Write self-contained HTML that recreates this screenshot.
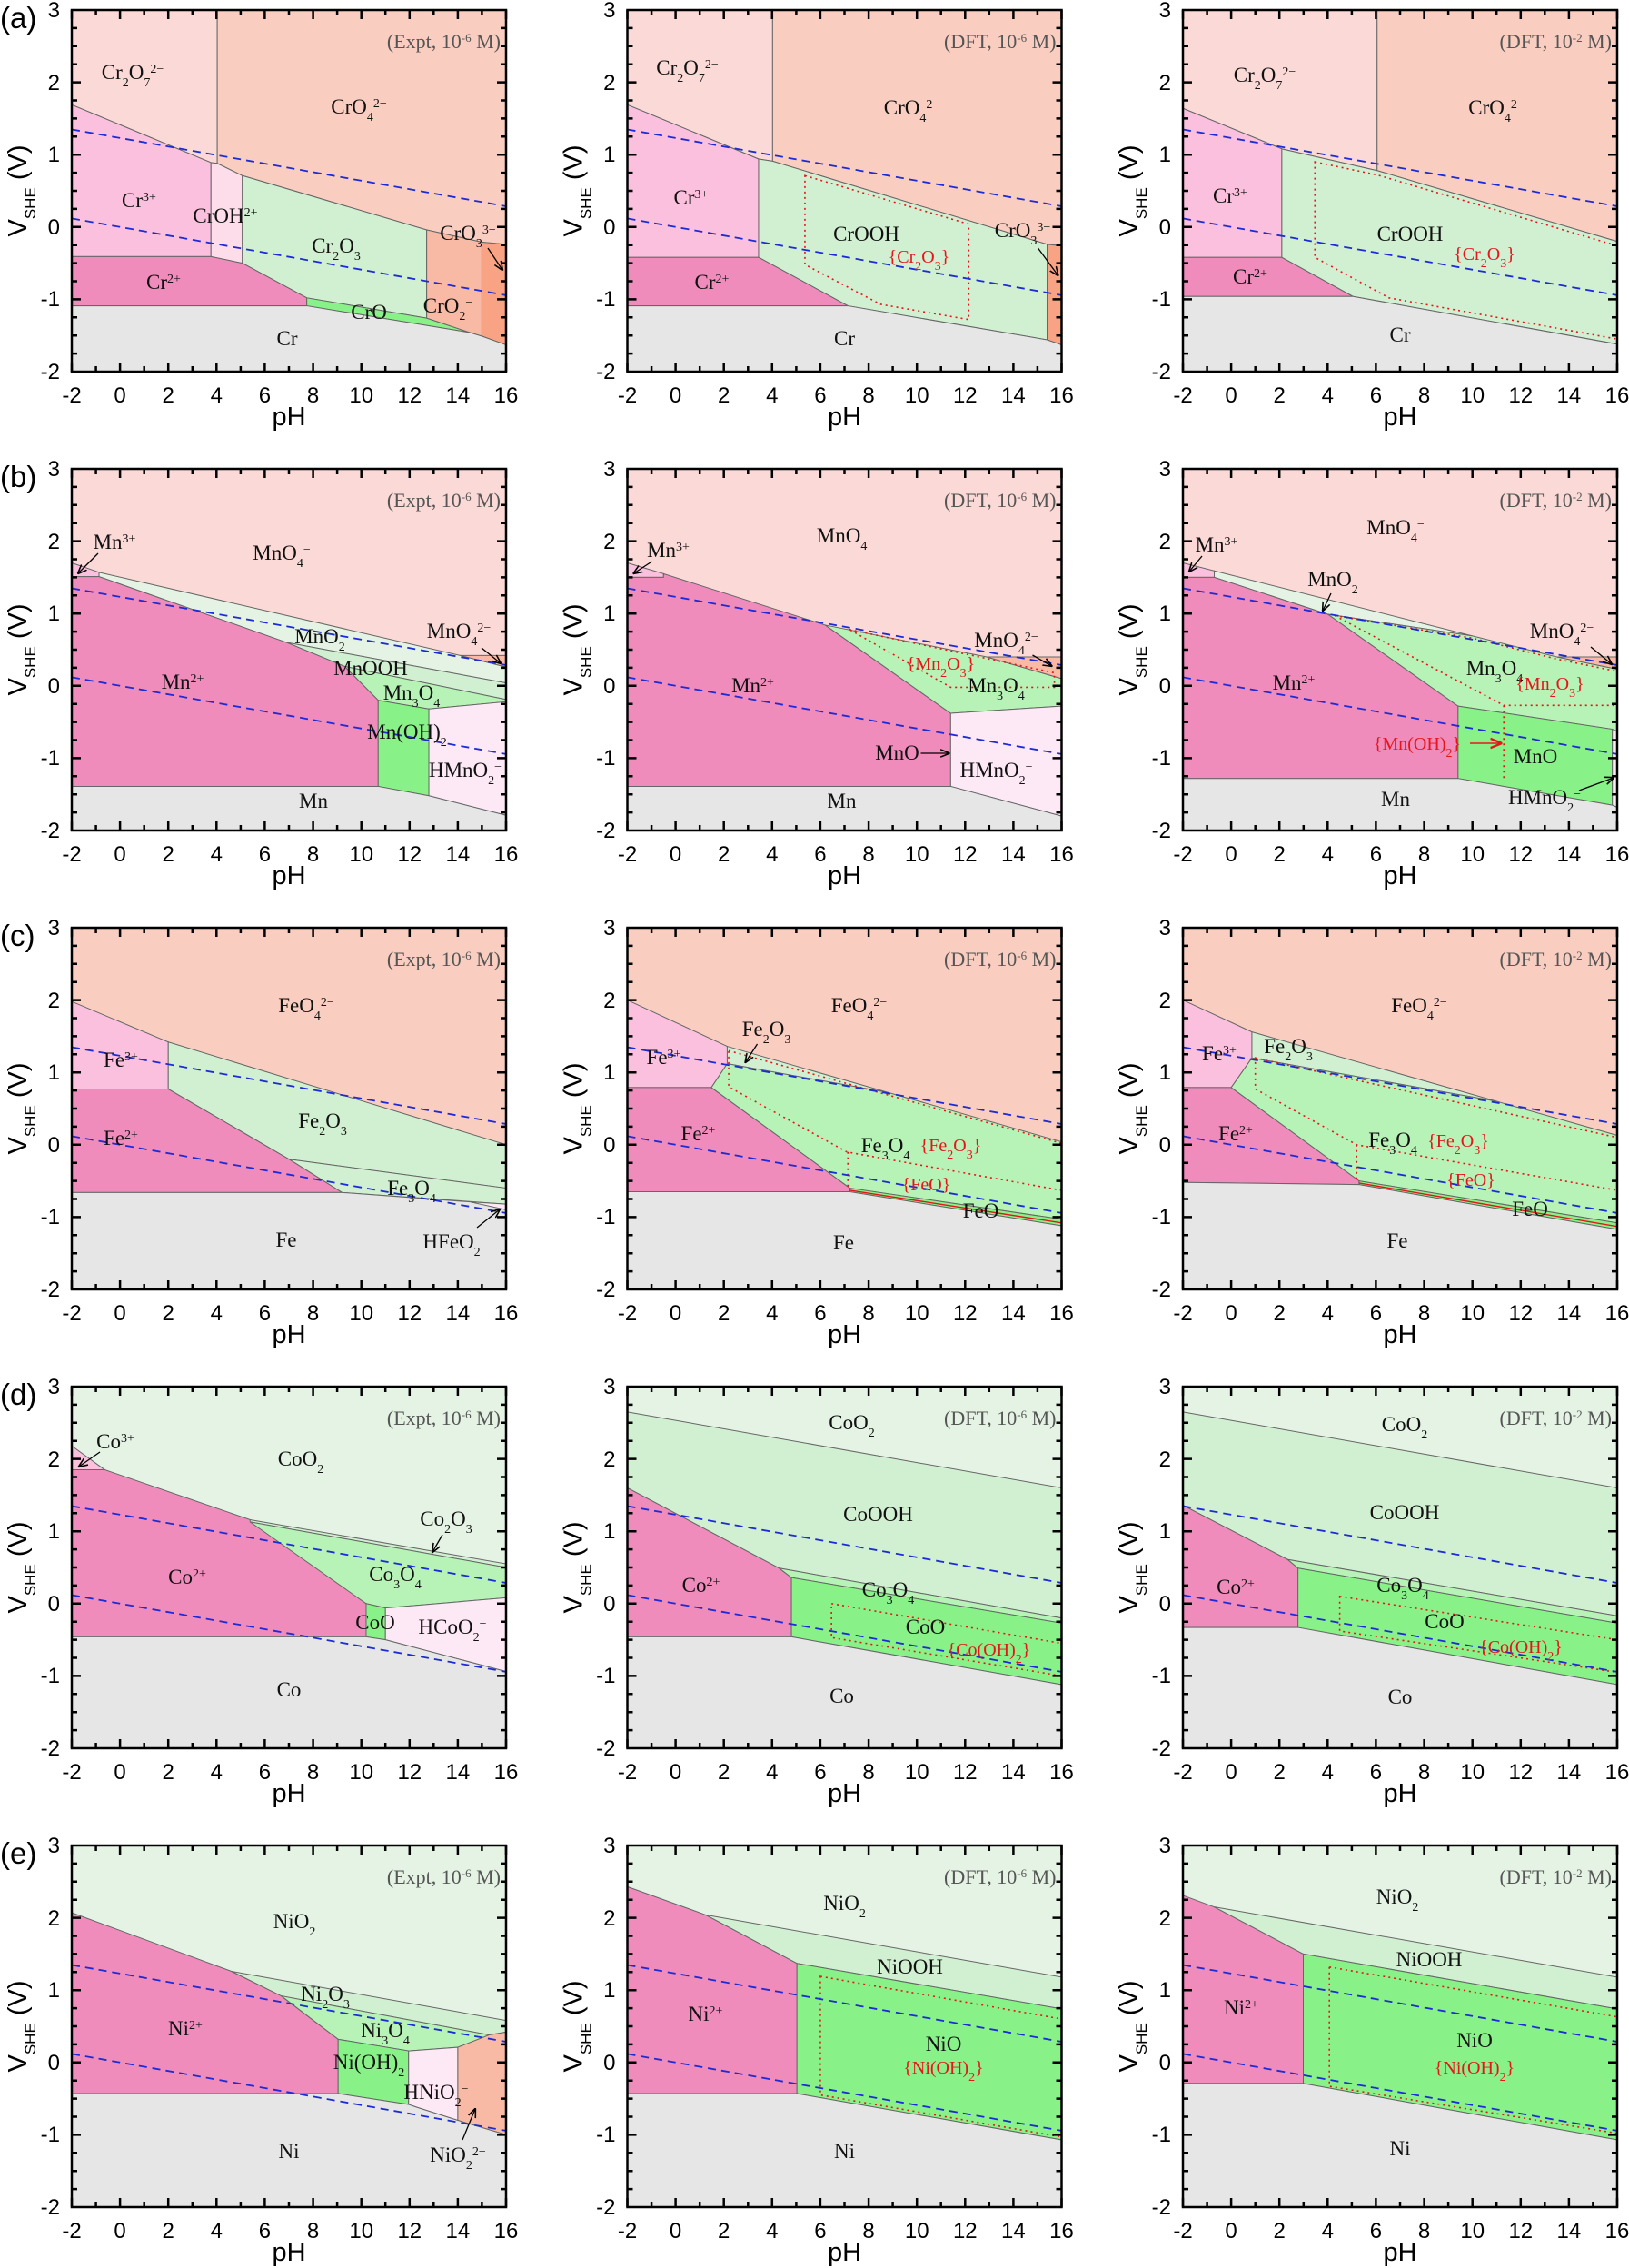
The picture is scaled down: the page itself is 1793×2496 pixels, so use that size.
<!DOCTYPE html>
<html><head><meta charset="utf-8">
<style>
html,body{margin:0;padding:0;background:#fff}
svg{display:block}
.r polygon{stroke:#666;stroke-width:1;vector-effect:non-scaling-stroke}
.bg0{fill:#fad9d6}.sal{fill:#f9cec0}.p3{fill:#fbc0dd}.p2{fill:#ef8cbc}.gy{fill:#e6e6e6}
.g1{fill:#d1efd1}.g0{fill:#e4f3e4}.g2{fill:#b7f2b7}.g3{fill:#88f288}.lp{fill:#fde8f6}
.oh{fill:#fddde9}.o1{fill:#f9baa5}.o2{fill:#f7a384}
.r .dt,.dt{fill:none;stroke:#e8141a;stroke-width:1.6;stroke-dasharray:2 4;vector-effect:non-scaling-stroke}
.rl{fill:none;stroke:#e8141a;stroke-width:1.4;vector-effect:non-scaling-stroke}
.w{fill:none;stroke:#1c2bd6;stroke-width:1.8;stroke-dasharray:9 6}
.t{font-family:"Liberation Serif",serif;font-size:23px;text-anchor:middle;fill:#111}
.rd{fill:#e8141a;font-size:20px}
.b{font-size:14px;baseline-shift:sub}
.p{font-size:14px;baseline-shift:super}
.hd{font-family:"Liberation Serif",serif;font-size:22px;text-anchor:end;fill:#555}
.hd tspan{font-size:13px;baseline-shift:super}
.tx{font-family:"Liberation Sans",sans-serif;font-size:24px;text-anchor:middle;fill:#000}
.ty{font-family:"Liberation Sans",sans-serif;font-size:24px;text-anchor:end;fill:#000}
.at{font-family:"Liberation Sans",sans-serif;font-size:29px;text-anchor:middle;fill:#000}
.at tspan{font-size:17px;baseline-shift:sub}
.rw{font-family:"Liberation Sans",sans-serif;font-size:33px;fill:#000}
.ar{stroke:#000;stroke-width:1.3;fill:none}
.arr{stroke:#e8141a;stroke-width:1.6;fill:none}
</style></head><body>
<svg width="1793" height="2496" viewBox="0 0 1793 2496" xmlns="http://www.w3.org/2000/svg">
<defs>
<marker id="m" viewBox="0 0 10 10" refX="9" refY="5" markerWidth="8" markerHeight="8" orient="auto"><path d="M0,1 L10,5 L0,9" fill="none" stroke="#000" stroke-width="1.5"/></marker>
<marker id="mr" viewBox="0 0 10 10" refX="9" refY="5" markerWidth="8" markerHeight="8" orient="auto"><path d="M0,1 L10,5 L0,9" fill="none" stroke="#e8141a" stroke-width="1.8"/></marker>
<g id="ax">
<path fill="none" stroke="#000" stroke-width="2.5" d="M0,398v-10M53.1,398v-10M106.2,398v-10M159.3,398v-10M212.4,398v-10M265.6,398v-10M318.7,398v-10M371.8,398v-10M424.9,398v-10M478,398v-10
M26.6,398v-6M79.7,398v-6M132.8,398v-6M185.9,398v-6M239,398v-6M292.1,398v-6M345.2,398v-6M398.3,398v-6M451.4,398v-6
M0,0v10M53.1,0v10M106.2,0v10M159.3,0v10M212.4,0v10M265.6,0v10M318.7,0v10M371.8,0v10M424.9,0v10M478,0v10
M26.6,0v6M79.7,0v6M132.8,0v6M185.9,0v6M239,0v6M292.1,0v6M345.2,0v6M398.3,0v6M451.4,0v6
M0,79.6h10M0,159.2h10M0,238.8h10M0,318.4h10
M478,79.6h-10M478,159.2h-10M478,238.8h-10M478,318.4h-10
M0,19.9h6M0,39.8h6M0,59.7h6M0,99.5h6M0,119.4h6M0,139.3h6M0,179.1h6M0,199h6M0,218.9h6M0,258.7h6M0,278.6h6M0,298.5h6M0,338.3h6M0,358.2h6M0,378.1h6
M478,19.9h-6M478,39.8h-6M478,59.7h-6M478,99.5h-6M478,119.4h-6M478,139.3h-6M478,179.1h-6M478,199h-6M478,218.9h-6M478,258.7h-6M478,278.6h-6M478,298.5h-6M478,338.3h-6M478,358.2h-6M478,378.1h-6"/>
<rect x="0" y="0" width="478" height="398" fill="none" stroke="#000" stroke-width="2.5"/>
</g>
<g id="wl"><path class="w" d="M0,131.5L478,216"/><path class="w" d="M0,229.4L478,313.9"/></g>
</defs>

<!-- ===== Row a ===== -->
<text class="rw" x="0" y="31">(a)</text>
<g transform="translate(79,11)">
<g class="r" transform="matrix(26.556 0 0 79.6 53.11 238.8)">
<polygon class="bg0" points="-2,-3 4.03,-3 4.03,-0.88 3.77,-0.89 -2,-1.69"/>
<polygon class="sal" points="4.03,-3 16,-3 16,0.24 15,0.21 12.71,0.04 5.07,-0.71 4.03,-0.88"/>
<polygon class="p3" points="-2,-1.69 3.77,-0.89 3.77,0.41 -2,0.41"/>
<polygon class="oh" points="3.77,-0.89 4.03,-0.88 5.07,-0.71 5.07,0.5 3.77,0.41"/>
<polygon class="g1" points="5.07,-0.71 12.71,0.04 12.71,1.26 7.74,0.98 5.07,0.5"/>
<polygon class="p2" points="-2,0.41 3.77,0.41 5.07,0.5 7.74,0.98 7.74,1.09 -2,1.09"/>
<polygon class="g3" points="7.74,0.98 12.71,1.26 14.5,1.46 7.74,1.09"/>
<polygon class="o1" points="12.71,0.04 15,0.21 15,1.51 14.5,1.46 12.71,1.26"/>
<polygon class="o2" points="15,0.21 16,0.24 16,1.63 15,1.51"/>
<polygon class="gy" points="-2,1.09 7.74,1.09 14.5,1.46 15,1.51 16,1.63 16,2 -2,2"/>
</g>
<use href="#wl"/>
<text class="t" x="67" y="76">Cr<tspan class="b">2</tspan>O<tspan class="b">7</tspan><tspan class="p">2−</tspan></text>
<text class="t" x="316" y="114">CrO<tspan class="b">4</tspan><tspan class="p">2−</tspan></text>
<text class="t" x="74" y="217">Cr<tspan class="p">3+</tspan></text>
<text class="t" x="169" y="234">CrOH<tspan class="p">2+</tspan></text>
<text class="t" x="291" y="267">Cr<tspan class="b">2</tspan>O<tspan class="b">3</tspan></text>
<text class="t" x="101" y="307">Cr<tspan class="p">2+</tspan></text>
<text class="t" x="327" y="340">CrO</text>
<text class="t" x="436" y="253">CrO<tspan class="b">3</tspan><tspan class="p">3−</tspan></text>
<path class="ar" marker-end="url(#m)" d="M458,262L474,286"/>
<text class="t" x="414" y="333">CrO<tspan class="b">2</tspan><tspan class="p">−</tspan></text>
<text class="t" x="237" y="369">Cr</text>
<text class="hd" x="472" y="42">(Expt, 10<tspan>-6</tspan> M)</text>
<use href="#ax"/>
<g class="tx"><text x="0" y="432">-2</text><text x="53.1" y="432">0</text><text x="106.2" y="432">2</text><text x="159.3" y="432">4</text><text x="212.4" y="432">6</text><text x="265.6" y="432">8</text><text x="318.7" y="432">10</text><text x="371.8" y="432">12</text><text x="424.9" y="432">14</text><text x="478" y="432">16</text></g>
<g class="ty"><text x="-13" y="8">3</text><text x="-13" y="88">2</text><text x="-13" y="167">1</text><text x="-13" y="247">0</text><text x="-13" y="326">-1</text><text x="-13" y="406">-2</text></g>
<text class="at" x="239" y="457">pH</text>
<text class="at" transform="translate(-50,199) rotate(-90)">V<tspan>SHE</tspan> (V)</text>
</g>

<g transform="translate(690.5,11)">
<g class="r" transform="matrix(26.556 0 0 79.6 53.11 238.8)">
<polygon class="bg0" points="-2,-3 4.02,-3 4.02,-0.91 3.44,-0.94 -2,-1.69"/>
<polygon class="sal" points="4.02,-3 16,-3 16,0.26 15.4,0.24 4.02,-0.91"/>
<polygon class="p3" points="-2,-1.69 3.44,-0.94 3.44,0.42 -2,0.42"/>
<polygon class="g1" points="3.44,-0.94 4.02,-0.91 15.4,0.24 15.4,1.56 7.14,1.09 3.44,0.42"/>
<polygon class="o2" points="15.4,0.24 16,0.26 16,1.63 15.4,1.56"/>
<polygon class="p2" points="-2,0.42 3.44,0.42 7.14,1.09 -2,1.09"/>
<polygon class="gy" points="-2,1.09 7.14,1.09 15.4,1.56 16,1.63 16,2 -2,2"/>
<polygon class="dt" points="5.36,-0.71 12.15,-0.04 12.15,1.28 8.5,1.07 5.36,0.52"/>
</g>
<use href="#wl"/>
<text class="t" x="66" y="71">Cr<tspan class="b">2</tspan>O<tspan class="b">7</tspan><tspan class="p">2−</tspan></text>
<text class="t" x="313" y="115">CrO<tspan class="b">4</tspan><tspan class="p">2−</tspan></text>
<text class="t" x="70" y="214">Cr<tspan class="p">3+</tspan></text>
<text class="t" x="263" y="254">CrOOH</text>
<text class="t rd" x="321" y="278">{Cr<tspan class="b">2</tspan>O<tspan class="b">3</tspan>}</text>
<text class="t" x="435" y="250">CrO<tspan class="b">3</tspan><tspan class="p">3−</tspan></text>
<path class="ar" marker-end="url(#m)" d="M452,262L474,292"/>
<text class="t" x="93" y="307">Cr<tspan class="p">2+</tspan></text>
<text class="t" x="239" y="369">Cr</text>
<text class="hd" x="472" y="42">(DFT, 10<tspan>-6</tspan> M)</text>
<use href="#ax"/>
<g class="tx"><text x="0" y="432">-2</text><text x="53.1" y="432">0</text><text x="106.2" y="432">2</text><text x="159.3" y="432">4</text><text x="212.4" y="432">6</text><text x="265.6" y="432">8</text><text x="318.7" y="432">10</text><text x="371.8" y="432">12</text><text x="424.9" y="432">14</text><text x="478" y="432">16</text></g>
<g class="ty"><text x="-13" y="8">3</text><text x="-13" y="88">2</text><text x="-13" y="167">1</text><text x="-13" y="247">0</text><text x="-13" y="326">-1</text><text x="-13" y="406">-2</text></g>
<text class="at" x="239" y="457">pH</text>
<text class="at" transform="translate(-50,199) rotate(-90)">V<tspan>SHE</tspan> (V)</text>
</g>

<g transform="translate(1302,11)">
<g class="r" transform="matrix(26.556 0 0 79.6 53.11 238.8)">
<polygon class="bg0" points="-2,-3 6.05,-3 6.05,-0.78 2.1,-1.08 -2,-1.64"/>
<polygon class="sal" points="6.05,-3 16,-3 16,0.2 6.05,-0.78"/>
<polygon class="p3" points="-2,-1.64 2.1,-1.08 2.1,0.42 -2,0.42"/>
<polygon class="p2" points="-2,0.42 2.1,0.42 5.05,0.96 -2,0.96"/>
<polygon class="g1" points="2.1,-1.08 6.05,-0.78 16,0.2 16,1.62 5.05,0.96 2.1,0.42"/>
<polygon class="gy" points="-2,0.96 5.05,0.96 16,1.62 16,2 -2,2"/>
<polygon class="dt" points="3.47,-0.9 6.05,-0.72 16,0.26 16,1.55 6.54,0.98 3.47,0.42"/>
</g>
<use href="#wl"/>
<text class="t" x="90" y="79">Cr<tspan class="b">2</tspan>O<tspan class="b">7</tspan><tspan class="p">2−</tspan></text>
<text class="t" x="345" y="115">CrO<tspan class="b">4</tspan><tspan class="p">2−</tspan></text>
<text class="t" x="52" y="212">Cr<tspan class="p">3+</tspan></text>
<text class="t" x="250" y="254">CrOOH</text>
<text class="t rd" x="332" y="275">{Cr<tspan class="b">2</tspan>O<tspan class="b">3</tspan>}</text>
<text class="t" x="74" y="301">Cr<tspan class="p">2+</tspan></text>
<text class="t" x="239" y="365">Cr</text>
<text class="hd" x="472" y="42">(DFT, 10<tspan>-2</tspan> M)</text>
<use href="#ax"/>
<g class="tx"><text x="0" y="432">-2</text><text x="53.1" y="432">0</text><text x="106.2" y="432">2</text><text x="159.3" y="432">4</text><text x="212.4" y="432">6</text><text x="265.6" y="432">8</text><text x="318.7" y="432">10</text><text x="371.8" y="432">12</text><text x="424.9" y="432">14</text><text x="478" y="432">16</text></g>
<g class="ty"><text x="-13" y="8">3</text><text x="-13" y="88">2</text><text x="-13" y="167">1</text><text x="-13" y="247">0</text><text x="-13" y="326">-1</text><text x="-13" y="406">-2</text></g>
<text class="at" x="239" y="457">pH</text>
<text class="at" transform="translate(-50,199) rotate(-90)">V<tspan>SHE</tspan> (V)</text>
</g>

<!-- ===== Row b ===== -->
<text class="rw" x="0" y="536">(b)</text>
<g transform="translate(79,516)">
<g class="r" transform="matrix(26.556 0 0 79.6 53.11 238.8)">
<polygon class="bg0" points="-2,-3 16,-3 16,2 -2,2"/>
<polygon class="p3" points="-2,-1.7 -0.87,-1.57 -0.87,-1.51 -2,-1.51"/>
<polygon class="g0" points="-0.87,-1.57 14.1,-0.42 16,-0.26 16,-0.04 6.9,-0.6 -0.87,-1.51"/>
<polygon class="o1" points="14.1,-0.42 16,-0.42 16,-0.26"/>
<polygon class="g1" points="6.9,-0.6 16,-0.04 16,0.19 9.3,-0.27"/>
<polygon class="g2" points="9.3,-0.27 16,0.19 16,0.22 12.8,0.32 10.7,0.2"/>
<polygon class="p2" points="-2,-1.51 -0.87,-1.51 6.9,-0.6 9.3,-0.27 10.7,0.2 10.7,1.39 -2,1.39"/>
<polygon class="g3" points="10.7,0.2 12.8,0.32 12.8,1.52 10.7,1.39"/>
<polygon class="lp" points="12.8,0.32 16,0.22 16,1.79 12.8,1.52"/>
<polygon class="gy" points="-2,1.39 10.7,1.39 12.8,1.52 16,1.79 16,2 -2,2"/>
</g>
<use href="#wl"/>
<text class="t" x="231" y="100">MnO<tspan class="b">4</tspan><tspan class="p">−</tspan></text>
<text class="t" x="47" y="88">Mn<tspan class="p">3+</tspan></text>
<path class="ar" marker-end="url(#m)" d="M29,93L7,115"/>
<text class="t" x="273" y="192">MnO<tspan class="b">2</tspan></text>
<text class="t" x="329" y="227">MnOOH</text>
<text class="t" x="374" y="254">Mn<tspan class="b">3</tspan>O<tspan class="b">4</tspan></text>
<text class="t" x="122" y="242">Mn<tspan class="p">2+</tspan></text>
<text class="t" x="369" y="297">Mn(OH)<tspan class="b">2</tspan></text>
<text class="t" x="433" y="339">HMnO<tspan class="b">2</tspan><tspan class="p">−</tspan></text>
<text class="t" x="426" y="186">MnO<tspan class="b">4</tspan><tspan class="p">2−</tspan></text>
<path class="ar" marker-end="url(#m)" d="M451,197L472,214"/>
<text class="t" x="266" y="373">Mn</text>
<text class="hd" x="472" y="42">(Expt, 10<tspan>-6</tspan> M)</text>
<use href="#ax"/>
<g class="tx"><text x="0" y="432">-2</text><text x="53.1" y="432">0</text><text x="106.2" y="432">2</text><text x="159.3" y="432">4</text><text x="212.4" y="432">6</text><text x="265.6" y="432">8</text><text x="318.7" y="432">10</text><text x="371.8" y="432">12</text><text x="424.9" y="432">14</text><text x="478" y="432">16</text></g>
<g class="ty"><text x="-13" y="8">3</text><text x="-13" y="88">2</text><text x="-13" y="167">1</text><text x="-13" y="247">0</text><text x="-13" y="326">-1</text><text x="-13" y="406">-2</text></g>
<text class="at" x="239" y="457">pH</text>
<text class="at" transform="translate(-50,199) rotate(-90)">V<tspan>SHE</tspan> (V)</text>
</g>

<g transform="translate(690.5,516)">
<g class="r" transform="matrix(26.556 0 0 79.6 53.11 238.8)">
<polygon class="bg0" points="-2,-3 16,-3 16,2 -2,2"/>
<polygon class="p3" points="-2,-1.7 -0.5,-1.55 -0.5,-1.5 -2,-1.5"/>
<polygon class="p2" points="-2,-1.5 -0.5,-1.5 -0.5,-1.55 6.2,-0.84 11.4,0.38 11.4,1.39 -2,1.39"/>
<polygon class="g2" points="6.2,-0.84 12.9,-0.4 16,-0.1 16,0.28 11.4,0.38"/>
<polygon class="o1" points="12.9,-0.4 16,-0.4 16,-0.1"/>
<polygon class="lp" points="11.4,0.38 16,0.28 16,1.8 11.4,1.39"/>
<polygon class="gy" points="-2,1.39 11.4,1.39 16,1.8 16,2 -2,2"/>
<polygon class="dt" points="7.2,-0.78 15.7,-0.18 15.7,0.02 11.4,0.02"/>
</g>
<use href="#wl"/>
<text class="t" x="240" y="81">MnO<tspan class="b">4</tspan><tspan class="p">−</tspan></text>
<text class="t" x="45" y="97">Mn<tspan class="p">3+</tspan></text>
<path class="ar" marker-end="url(#m)" d="M27,102L7,115"/>
<text class="t" x="417" y="196">MnO<tspan class="b">4</tspan><tspan class="p">2−</tspan></text>
<path class="ar" marker-end="url(#m)" d="M446,205L467,217"/>
<text class="t rd" x="345" y="221">{Mn<tspan class="b">2</tspan>O<tspan class="b">3</tspan>}</text>
<text class="t" x="406" y="246">Mn<tspan class="b">3</tspan>O<tspan class="b">4</tspan></text>
<text class="t" x="138" y="246">Mn<tspan class="p">2+</tspan></text>
<text class="t" x="297" y="320">MnO</text>
<path class="ar" marker-end="url(#m)" d="M323,313L354,313"/>
<text class="t" x="406" y="339">HMnO<tspan class="b">2</tspan><tspan class="p">−</tspan></text>
<text class="t" x="236" y="373">Mn</text>
<text class="hd" x="472" y="42">(DFT, 10<tspan>-6</tspan> M)</text>
<use href="#ax"/>
<g class="tx"><text x="0" y="432">-2</text><text x="53.1" y="432">0</text><text x="106.2" y="432">2</text><text x="159.3" y="432">4</text><text x="212.4" y="432">6</text><text x="265.6" y="432">8</text><text x="318.7" y="432">10</text><text x="371.8" y="432">12</text><text x="424.9" y="432">14</text><text x="478" y="432">16</text></g>
<g class="ty"><text x="-13" y="8">3</text><text x="-13" y="88">2</text><text x="-13" y="167">1</text><text x="-13" y="247">0</text><text x="-13" y="326">-1</text><text x="-13" y="406">-2</text></g>
<text class="at" x="239" y="457">pH</text>
<text class="at" transform="translate(-50,199) rotate(-90)">V<tspan>SHE</tspan> (V)</text>
</g>

<g transform="translate(1302,516)">
<g class="r" transform="matrix(26.556 0 0 79.6 53.11 238.8)">
<polygon class="bg0" points="-2,-3 16,-3 16,2 -2,2"/>
<polygon class="p3" points="-2,-1.7 -0.7,-1.59 -0.7,-1.5 -2,-1.5"/>
<polygon class="g0" points="-0.7,-1.59 10,-0.69 4,-0.99 -0.7,-1.5"/>
<polygon class="g2" points="4,-0.99 10,-0.69 13.5,-0.4 16,-0.23 16,0.63 15.8,0.6 9.4,0.28"/>
<polygon class="o1" points="13.5,-0.4 16,-0.4 16,-0.23"/>
<polygon class="g3" points="9.4,0.28 15.8,0.6 15.8,1.65 9.4,1.28"/>
<polygon class="lp" points="15.8,0.6 16,0.63 16,1.68 15.8,1.65"/>
<polygon class="p2" points="-2,-1.5 -0.7,-1.5 4,-0.99 9.4,0.28 9.4,1.28 -2,1.28"/>
<polygon class="gy" points="-2,1.28 9.4,1.28 15.8,1.65 16,1.68 16,2 -2,2"/>
<path class="dt" d="M4.3,-0.97L10,-0.66L13.5,-0.37L16,-0.2M4.3,-0.97L11.3,0.27L16,0.27M11.3,0.27L11.3,1.28"/>
</g>
<use href="#wl"/>
<text class="t" x="234" y="72">MnO<tspan class="b">4</tspan><tspan class="p">−</tspan></text>
<text class="t" x="37" y="91">Mn<tspan class="p">3+</tspan></text>
<path class="ar" marker-end="url(#m)" d="M21,96L7,113"/>
<text class="t" x="165" y="129">MnO<tspan class="b">2</tspan></text>
<path class="ar" marker-end="url(#m)" d="M163,137L154,156"/>
<text class="t" x="417" y="186">MnO<tspan class="b">4</tspan><tspan class="p">2−</tspan></text>
<path class="ar" marker-end="url(#m)" d="M449,196L472,215"/>
<text class="t" x="343" y="227">Mn<tspan class="b">3</tspan>O<tspan class="b">4</tspan></text>
<text class="t rd" x="404" y="243">{Mn<tspan class="b">2</tspan>O<tspan class="b">3</tspan>}</text>
<text class="t" x="122" y="243">Mn<tspan class="p">2+</tspan></text>
<text class="t rd" x="258" y="309">{Mn(OH)<tspan class="b">2</tspan>}</text>
<path class="arr" marker-end="url(#mr)" d="M316,302L350,302"/>
<text class="t" x="388" y="324">MnO</text>
<text class="t" x="398" y="369">HMnO<tspan class="b">2</tspan><tspan class="p">−</tspan></text>
<path class="ar" marker-end="url(#m)" d="M436,354L474,340"/>
<text class="t" x="234" y="371">Mn</text>
<text class="hd" x="472" y="42">(DFT, 10<tspan>-2</tspan> M)</text>
<use href="#ax"/>
<g class="tx"><text x="0" y="432">-2</text><text x="53.1" y="432">0</text><text x="106.2" y="432">2</text><text x="159.3" y="432">4</text><text x="212.4" y="432">6</text><text x="265.6" y="432">8</text><text x="318.7" y="432">10</text><text x="371.8" y="432">12</text><text x="424.9" y="432">14</text><text x="478" y="432">16</text></g>
<g class="ty"><text x="-13" y="8">3</text><text x="-13" y="88">2</text><text x="-13" y="167">1</text><text x="-13" y="247">0</text><text x="-13" y="326">-1</text><text x="-13" y="406">-2</text></g>
<text class="at" x="239" y="457">pH</text>
<text class="at" transform="translate(-50,199) rotate(-90)">V<tspan>SHE</tspan> (V)</text>
</g>

<!-- ===== Row c ===== -->
<text class="rw" x="0" y="1041">(c)</text>
<g transform="translate(79,1021)">
<g class="r" transform="matrix(26.556 0 0 79.6 53.11 238.8)">
<polygon class="sal" points="-2,-3 16,-3 16,2 -2,2"/>
<polygon class="p3" points="-2,-1.98 2,-1.42 2,-0.77 -2,-0.77"/>
<polygon class="g1" points="2,-1.42 16,0 16,0.6 7,0.2 2,-0.77"/>
<polygon class="g1" points="7,0.2 16,0.6 16,0.82 9.2,0.66"/>
<polygon class="p2" points="-2,-0.77 2,-0.77 7,0.2 9.2,0.66 -2,0.66"/>
<polygon class="lp" points="14.5,0.79 16,0.82 16,0.9"/>
<polygon class="gy" points="-2,0.66 9.2,0.66 14.5,0.79 16,0.9 16,2 -2,2"/>
</g>
<use href="#wl"/>
<text class="t" x="258" y="93">FeO<tspan class="b">4</tspan><tspan class="p">2−</tspan></text>
<text class="t" x="54" y="153">Fe<tspan class="p">3+</tspan></text>
<text class="t" x="54" y="239">Fe<tspan class="p">2+</tspan></text>
<text class="t" x="276" y="220">Fe<tspan class="b">2</tspan>O<tspan class="b">3</tspan></text>
<text class="t" x="374" y="294">Fe<tspan class="b">3</tspan>O<tspan class="b">4</tspan></text>
<text class="t" x="236" y="351">Fe</text>
<text class="t" x="422" y="353">HFeO<tspan class="b">2</tspan><tspan class="p">−</tspan></text>
<path class="ar" marker-end="url(#m)" d="M446,330L471,310"/>
<text class="hd" x="472" y="42">(Expt, 10<tspan>-6</tspan> M)</text>
<use href="#ax"/>
<g class="tx"><text x="0" y="432">-2</text><text x="53.1" y="432">0</text><text x="106.2" y="432">2</text><text x="159.3" y="432">4</text><text x="212.4" y="432">6</text><text x="265.6" y="432">8</text><text x="318.7" y="432">10</text><text x="371.8" y="432">12</text><text x="424.9" y="432">14</text><text x="478" y="432">16</text></g>
<g class="ty"><text x="-13" y="8">3</text><text x="-13" y="88">2</text><text x="-13" y="167">1</text><text x="-13" y="247">0</text><text x="-13" y="326">-1</text><text x="-13" y="406">-2</text></g>
<text class="at" x="239" y="457">pH</text>
<text class="at" transform="translate(-50,199) rotate(-90)">V<tspan>SHE</tspan> (V)</text>
</g>

<g transform="translate(690.5,1021)">
<g class="r" transform="matrix(26.556 0 0 79.6 53.11 238.8)">
<polygon class="sal" points="-2,-3 16,-3 16,2 -2,2"/>
<polygon class="p3" points="-2,-2 2.14,-1.36 2.14,-1.12 1.48,-0.79 -2,-0.79"/>
<polygon class="g1" points="2.14,-1.36 8.83,-0.72 2.14,-1.12"/>
<polygon class="g2" points="2.14,-1.12 8.83,-0.72 16,-0.04 16,1.03 7.22,0.6 1.48,-0.79"/>
<polygon class="g3" points="7.22,0.6 16,1.03 16,1.12 7.22,0.65"/>
<polygon class="p2" points="-2,-0.79 1.48,-0.79 7.22,0.6 7.22,0.65 -2,0.65"/>
<polygon class="gy" points="-2,0.65 7.22,0.65 16,1.12 16,2 -2,2"/>
<polygon class="dt" points="2.2,-1.3 16,-0.02 16,0.63 7.1,0.1 2.2,-0.8"/>
<path class="dt" d="M7.14,0.1L7.14,0.6"/>
<path class="rl" d="M7.22,0.63L16,1.08"/>
</g>
<use href="#wl"/>
<text class="t" x="255" y="93">FeO<tspan class="b">4</tspan><tspan class="p">2−</tspan></text>
<text class="t" x="153" y="119">Fe<tspan class="b">2</tspan>O<tspan class="b">3</tspan></text>
<path class="ar" marker-end="url(#m)" d="M143,128L130,148"/>
<text class="t" x="40" y="150">Fe<tspan class="p">3+</tspan></text>
<text class="t" x="78" y="234">Fe<tspan class="p">2+</tspan></text>
<text class="t" x="284" y="247">Fe<tspan class="b">3</tspan>O<tspan class="b">4</tspan></text>
<text class="t rd" x="356" y="246">{Fe<tspan class="b">2</tspan>O<tspan class="b">3</tspan>}</text>
<text class="t rd" x="329" y="289">{FeO}</text>
<text class="t" x="389" y="319">FeO</text>
<text class="t" x="238" y="354">Fe</text>
<text class="hd" x="472" y="42">(DFT, 10<tspan>-6</tspan> M)</text>
<use href="#ax"/>
<g class="tx"><text x="0" y="432">-2</text><text x="53.1" y="432">0</text><text x="106.2" y="432">2</text><text x="159.3" y="432">4</text><text x="212.4" y="432">6</text><text x="265.6" y="432">8</text><text x="318.7" y="432">10</text><text x="371.8" y="432">12</text><text x="424.9" y="432">14</text><text x="478" y="432">16</text></g>
<g class="ty"><text x="-13" y="8">3</text><text x="-13" y="88">2</text><text x="-13" y="167">1</text><text x="-13" y="247">0</text><text x="-13" y="326">-1</text><text x="-13" y="406">-2</text></g>
<text class="at" x="239" y="457">pH</text>
<text class="at" transform="translate(-50,199) rotate(-90)">V<tspan>SHE</tspan> (V)</text>
</g>

<g transform="translate(1302,1021)">
<g class="r" transform="matrix(26.556 0 0 79.6 53.11 238.8)">
<polygon class="sal" points="-2,-3 16,-3 16,2 -2,2"/>
<polygon class="p3" points="-2,-2 0.86,-1.56 0.86,-1.2 0,-0.79 -2,-0.79"/>
<polygon class="g1" points="0.86,-1.56 11,-0.6 0.86,-1.2"/>
<polygon class="g2" points="0.86,-1.2 11,-0.6 16,-0.13 16,1.08 5.3,0.5 0,-0.79"/>
<polygon class="g3" points="5.3,0.5 16,1.08 16,1.17 5.3,0.55"/>
<polygon class="p2" points="-2,-0.79 0,-0.79 5.3,0.5 5.3,0.55 -2,0.52"/>
<polygon class="gy" points="-2,0.52 5.3,0.55 16,1.17 16,2 -2,2"/>
<polygon class="dt" points="1,-1.2 16,-0.1 16,0.63 5.2,0 1,-0.77"/>
<path class="dt" d="M5.2,0L5.2,0.5"/>
<path class="rl" d="M5.3,0.53L16,1.13"/>
</g>
<use href="#wl"/>
<text class="t" x="260" y="93">FeO<tspan class="b">4</tspan><tspan class="p">2−</tspan></text>
<text class="t" x="116" y="138">Fe<tspan class="b">2</tspan>O<tspan class="b">3</tspan></text>
<text class="t" x="40" y="146">Fe<tspan class="p">3+</tspan></text>
<text class="t" x="58" y="234">Fe<tspan class="p">2+</tspan></text>
<text class="t" x="231" y="241">Fe<tspan class="b">3</tspan>O<tspan class="b">4</tspan></text>
<text class="t rd" x="303" y="241">{Fe<tspan class="b">2</tspan>O<tspan class="b">3</tspan>}</text>
<text class="t rd" x="317" y="284">{FeO}</text>
<text class="t" x="382" y="317">FeO</text>
<text class="t" x="236" y="352">Fe</text>
<text class="hd" x="472" y="42">(DFT, 10<tspan>-2</tspan> M)</text>
<use href="#ax"/>
<g class="tx"><text x="0" y="432">-2</text><text x="53.1" y="432">0</text><text x="106.2" y="432">2</text><text x="159.3" y="432">4</text><text x="212.4" y="432">6</text><text x="265.6" y="432">8</text><text x="318.7" y="432">10</text><text x="371.8" y="432">12</text><text x="424.9" y="432">14</text><text x="478" y="432">16</text></g>
<g class="ty"><text x="-13" y="8">3</text><text x="-13" y="88">2</text><text x="-13" y="167">1</text><text x="-13" y="247">0</text><text x="-13" y="326">-1</text><text x="-13" y="406">-2</text></g>
<text class="at" x="239" y="457">pH</text>
<text class="at" transform="translate(-50,199) rotate(-90)">V<tspan>SHE</tspan> (V)</text>
</g>

<!-- ===== Row d ===== -->
<text class="rw" x="0" y="1546">(d)</text>
<g transform="translate(79,1526)">
<g class="r" transform="matrix(26.556 0 0 79.6 53.11 238.8)">
<polygon class="g0" points="-2,-3 16,-3 16,2 -2,2"/>
<polygon class="p3" points="-2,-2.18 -0.63,-1.85 -2,-1.85"/>
<polygon class="p2" points="-2,-1.85 -0.63,-1.85 5.39,-1.16 10.2,0 10.2,0.46 -2,0.46"/>
<polygon class="g1" points="5.39,-1.16 16,-0.55 16,-0.5 5.39,-1.13"/>
<polygon class="g2" points="5.39,-1.13 16,-0.5 16,-0.08 11,0.06 10.2,0"/>
<polygon class="g3" points="10.2,0 11,0.06 11,0.5 10.2,0.46"/>
<polygon class="lp" points="11,0.06 16,-0.08 16,0.94 11,0.5"/>
<polygon class="gy" points="-2,0.46 10.2,0.46 11,0.5 16,0.94 16,2 -2,2"/>
</g>
<use href="#wl"/>
<text class="t" x="48" y="68">Co<tspan class="p">3+</tspan></text>
<path class="ar" marker-end="url(#m)" d="M31,72L8,88"/>
<text class="t" x="252" y="87">CoO<tspan class="b">2</tspan></text>
<text class="t" x="412" y="153">Co<tspan class="b">2</tspan>O<tspan class="b">3</tspan></text>
<path class="ar" marker-end="url(#m)" d="M408,163L397,182"/>
<text class="t" x="356" y="214">Co<tspan class="b">3</tspan>O<tspan class="b">4</tspan></text>
<text class="t" x="127" y="217">Co<tspan class="p">2+</tspan></text>
<text class="t" x="334" y="267">CoO</text>
<text class="t" x="419" y="272">HCoO<tspan class="b">2</tspan><tspan class="p">−</tspan></text>
<text class="t" x="239" y="341">Co</text>
<text class="hd" x="472" y="42">(Expt, 10<tspan>-6</tspan> M)</text>
<use href="#ax"/>
<g class="tx"><text x="0" y="432">-2</text><text x="53.1" y="432">0</text><text x="106.2" y="432">2</text><text x="159.3" y="432">4</text><text x="212.4" y="432">6</text><text x="265.6" y="432">8</text><text x="318.7" y="432">10</text><text x="371.8" y="432">12</text><text x="424.9" y="432">14</text><text x="478" y="432">16</text></g>
<g class="ty"><text x="-13" y="8">3</text><text x="-13" y="88">2</text><text x="-13" y="167">1</text><text x="-13" y="247">0</text><text x="-13" y="326">-1</text><text x="-13" y="406">-2</text></g>
<text class="at" x="239" y="457">pH</text>
<text class="at" transform="translate(-50,199) rotate(-90)">V<tspan>SHE</tspan> (V)</text>
</g>

<g transform="translate(690.5,1526)">
<g class="r" transform="matrix(26.556 0 0 79.6 53.11 238.8)">
<polygon class="g0" points="-2,-3 16,-3 16,2 -2,2"/>
<polygon class="g1" points="-2,-2.65 16,-1.6 16,0.2 4.29,-0.49 -2,-1.6"/>
<polygon class="p2" points="-2,-1.6 4.29,-0.49 4.8,-0.36 4.8,0.46 -2,0.46"/>
<polygon class="g2" points="4.29,-0.49 16,0.2 16,0.27 4.8,-0.36"/>
<polygon class="g3" points="4.8,-0.36 16,0.27 16,1.12 4.8,0.46"/>
<polygon class="gy" points="-2,0.46 4.8,0.46 16,1.12 16,2 -2,2"/>
<polygon class="dt" points="6.46,0 16,0.55 16,1 6.46,0.47"/>
</g>
<use href="#wl"/>
<text class="t" x="247" y="47">CoO<tspan class="b">2</tspan></text>
<text class="t" x="276" y="148">CoOOH</text>
<text class="t" x="81" y="226">Co<tspan class="p">2+</tspan></text>
<text class="t" x="287" y="231">Co<tspan class="b">3</tspan>O<tspan class="b">4</tspan></text>
<text class="t" x="328" y="272">CoO</text>
<text class="t rd" x="398" y="296">{Co(OH)<tspan class="b">2</tspan>}</text>
<text class="t" x="236" y="348">Co</text>
<text class="hd" x="472" y="42">(DFT, 10<tspan>-6</tspan> M)</text>
<use href="#ax"/>
<g class="tx"><text x="0" y="432">-2</text><text x="53.1" y="432">0</text><text x="106.2" y="432">2</text><text x="159.3" y="432">4</text><text x="212.4" y="432">6</text><text x="265.6" y="432">8</text><text x="318.7" y="432">10</text><text x="371.8" y="432">12</text><text x="424.9" y="432">14</text><text x="478" y="432">16</text></g>
<g class="ty"><text x="-13" y="8">3</text><text x="-13" y="88">2</text><text x="-13" y="167">1</text><text x="-13" y="247">0</text><text x="-13" y="326">-1</text><text x="-13" y="406">-2</text></g>
<text class="at" x="239" y="457">pH</text>
<text class="at" transform="translate(-50,199) rotate(-90)">V<tspan>SHE</tspan> (V)</text>
</g>

<g transform="translate(1302,1526)">
<g class="r" transform="matrix(26.556 0 0 79.6 53.11 238.8)">
<polygon class="g0" points="-2,-3 16,-3 16,2 -2,2"/>
<polygon class="g1" points="-2,-2.65 16,-1.6 16,0.17 2.34,-0.61 -2,-1.36"/>
<polygon class="p2" points="-2,-1.36 2.34,-0.61 2.77,-0.49 2.77,0.33 -2,0.33"/>
<polygon class="g2" points="2.34,-0.61 16,0.17 16,0.27 2.77,-0.49"/>
<polygon class="g3" points="2.77,-0.49 16,0.27 16,1.12 2.77,0.33"/>
<polygon class="gy" points="-2,0.33 2.77,0.33 16,1.12 16,2 -2,2"/>
<polygon class="dt" points="4.5,-0.1 16,0.5 16,0.95 4.5,0.38"/>
</g>
<use href="#wl"/>
<text class="t" x="244" y="49">CoO<tspan class="b">2</tspan></text>
<text class="t" x="244" y="146">CoOOH</text>
<text class="t" x="58" y="228">Co<tspan class="p">2+</tspan></text>
<text class="t" x="242" y="226">Co<tspan class="b">3</tspan>O<tspan class="b">4</tspan></text>
<text class="t" x="288" y="266">CoO</text>
<text class="t rd" x="372" y="293">{Co(OH)<tspan class="b">2</tspan>}</text>
<text class="t" x="239" y="349">Co</text>
<text class="hd" x="472" y="42">(DFT, 10<tspan>-2</tspan> M)</text>
<use href="#ax"/>
<g class="tx"><text x="0" y="432">-2</text><text x="53.1" y="432">0</text><text x="106.2" y="432">2</text><text x="159.3" y="432">4</text><text x="212.4" y="432">6</text><text x="265.6" y="432">8</text><text x="318.7" y="432">10</text><text x="371.8" y="432">12</text><text x="424.9" y="432">14</text><text x="478" y="432">16</text></g>
<g class="ty"><text x="-13" y="8">3</text><text x="-13" y="88">2</text><text x="-13" y="167">1</text><text x="-13" y="247">0</text><text x="-13" y="326">-1</text><text x="-13" y="406">-2</text></g>
<text class="at" x="239" y="457">pH</text>
<text class="at" transform="translate(-50,199) rotate(-90)">V<tspan>SHE</tspan> (V)</text>
</g>

<!-- ===== Row e ===== -->
<text class="rw" x="0" y="2051">(e)</text>
<g transform="translate(79,2031)">
<g class="r" transform="matrix(26.556 0 0 79.6 53.11 238.8)">
<polygon class="g0" points="-2,-3 16,-3 16,2 -2,2"/>
<polygon class="p2" points="-2,-2.07 4.62,-1.26 6.68,-0.92 9.04,-0.32 9.04,0.43 -2,0.43"/>
<polygon class="g1" points="4.62,-1.26 16,-0.58 16,-0.42 15.3,-0.38 6.68,-0.92"/>
<polygon class="g2" points="6.68,-0.92 15.3,-0.38 14,-0.21 11.96,-0.16 9.04,-0.32"/>
<polygon class="g3" points="9.04,-0.32 11.96,-0.16 11.96,0.58 9.04,0.43"/>
<polygon class="lp" points="11.96,-0.16 14,-0.21 14,0.8 12.3,0.62 11.96,0.58"/>
<polygon class="o1" points="14,-0.21 15.3,-0.38 16,-0.42 16,1 14,0.8"/>
<polygon class="gy" points="-2,0.43 9.04,0.43 11.96,0.58 12.3,0.62 14,0.8 16,1 16,2 -2,2"/>
</g>
<use href="#wl"/>
<text class="t" x="245" y="91">NiO<tspan class="b">2</tspan></text>
<text class="t" x="279" y="171">Ni<tspan class="b">2</tspan>O<tspan class="b">3</tspan></text>
<text class="t" x="345" y="211">Ni<tspan class="b">3</tspan>O<tspan class="b">4</tspan></text>
<text class="t" x="125" y="209">Ni<tspan class="p">2+</tspan></text>
<text class="t" x="327" y="246">Ni(OH)<tspan class="b">2</tspan></text>
<text class="t" x="401" y="279">HNiO<tspan class="b">2</tspan><tspan class="p">−</tspan></text>
<text class="t" x="425" y="348">NiO<tspan class="b">2</tspan><tspan class="p">2−</tspan></text>
<path class="ar" marker-end="url(#m)" d="M430,324L444,290"/>
<text class="t" x="239" y="344">Ni</text>
<text class="hd" x="472" y="42">(Expt, 10<tspan>-6</tspan> M)</text>
<use href="#ax"/>
<g class="tx"><text x="0" y="432">-2</text><text x="53.1" y="432">0</text><text x="106.2" y="432">2</text><text x="159.3" y="432">4</text><text x="212.4" y="432">6</text><text x="265.6" y="432">8</text><text x="318.7" y="432">10</text><text x="371.8" y="432">12</text><text x="424.9" y="432">14</text><text x="478" y="432">16</text></g>
<g class="ty"><text x="-13" y="8">3</text><text x="-13" y="88">2</text><text x="-13" y="167">1</text><text x="-13" y="247">0</text><text x="-13" y="326">-1</text><text x="-13" y="406">-2</text></g>
<text class="at" x="239" y="457">pH</text>
<text class="at" transform="translate(-50,199) rotate(-90)">V<tspan>SHE</tspan> (V)</text>
</g>

<g transform="translate(690.5,2031)">
<g class="r" transform="matrix(26.556 0 0 79.6 53.11 238.8)">
<polygon class="g0" points="-2,-3 16,-3 16,2 -2,2"/>
<polygon class="p2" points="-2,-2.43 1.25,-2.04 5.03,-1.37 5.03,0.43 -2,0.43"/>
<polygon class="g1" points="1.25,-2.04 16,-1.18 16,-0.74 5.03,-1.37"/>
<polygon class="g3" points="5.03,-1.37 16,-0.74 16,1.07 5.03,0.43"/>
<polygon class="gy" points="-2,0.43 5.03,0.43 16,1.07 16,2 -2,2"/>
<polygon class="dt" points="6,-1.19 16,-0.6 16,1.03 6,0.45"/>
</g>
<use href="#wl"/>
<text class="t" x="239" y="71">NiO<tspan class="b">2</tspan></text>
<text class="t" x="311" y="141">NiOOH</text>
<text class="t" x="86" y="193">Ni<tspan class="p">2+</tspan></text>
<text class="t" x="348" y="226">NiO</text>
<text class="t rd" x="348" y="251">{Ni(OH)<tspan class="b">2</tspan>}</text>
<text class="t" x="239" y="344">Ni</text>
<text class="hd" x="472" y="42">(DFT, 10<tspan>-6</tspan> M)</text>
<use href="#ax"/>
<g class="tx"><text x="0" y="432">-2</text><text x="53.1" y="432">0</text><text x="106.2" y="432">2</text><text x="159.3" y="432">4</text><text x="212.4" y="432">6</text><text x="265.6" y="432">8</text><text x="318.7" y="432">10</text><text x="371.8" y="432">12</text><text x="424.9" y="432">14</text><text x="478" y="432">16</text></g>
<g class="ty"><text x="-13" y="8">3</text><text x="-13" y="88">2</text><text x="-13" y="167">1</text><text x="-13" y="247">0</text><text x="-13" y="326">-1</text><text x="-13" y="406">-2</text></g>
<text class="at" x="239" y="457">pH</text>
<text class="at" transform="translate(-50,199) rotate(-90)">V<tspan>SHE</tspan> (V)</text>
</g>

<g transform="translate(1302,2031)">
<g class="r" transform="matrix(26.556 0 0 79.6 53.11 238.8)">
<polygon class="g0" points="-2,-3 16,-3 16,2 -2,2"/>
<polygon class="p2" points="-2,-2.31 -0.7,-2.15 2.99,-1.5 2.99,0.29 -2,0.29"/>
<polygon class="g1" points="-0.7,-2.15 16,-1.18 16,-0.74 2.99,-1.5"/>
<polygon class="g3" points="2.99,-1.5 16,-0.74 16,1.07 2.99,0.29"/>
<polygon class="gy" points="-2,0.29 2.99,0.29 16,1.07 16,2 -2,2"/>
<polygon class="dt" points="4.07,-1.32 16,-0.63 16,0.98 4.07,0.33"/>
</g>
<use href="#wl"/>
<text class="t" x="236" y="64">NiO<tspan class="b">2</tspan></text>
<text class="t" x="271" y="133">NiOOH</text>
<text class="t" x="64" y="186">Ni<tspan class="p">2+</tspan></text>
<text class="t" x="321" y="222">NiO</text>
<text class="t rd" x="321" y="251">{Ni(OH)<tspan class="b">2</tspan>}</text>
<text class="t" x="239" y="341">Ni</text>
<text class="hd" x="472" y="42">(DFT, 10<tspan>-2</tspan> M)</text>
<use href="#ax"/>
<g class="tx"><text x="0" y="432">-2</text><text x="53.1" y="432">0</text><text x="106.2" y="432">2</text><text x="159.3" y="432">4</text><text x="212.4" y="432">6</text><text x="265.6" y="432">8</text><text x="318.7" y="432">10</text><text x="371.8" y="432">12</text><text x="424.9" y="432">14</text><text x="478" y="432">16</text></g>
<g class="ty"><text x="-13" y="8">3</text><text x="-13" y="88">2</text><text x="-13" y="167">1</text><text x="-13" y="247">0</text><text x="-13" y="326">-1</text><text x="-13" y="406">-2</text></g>
<text class="at" x="239" y="457">pH</text>
<text class="at" transform="translate(-50,199) rotate(-90)">V<tspan>SHE</tspan> (V)</text>
</g>
</svg>
</body></html>
